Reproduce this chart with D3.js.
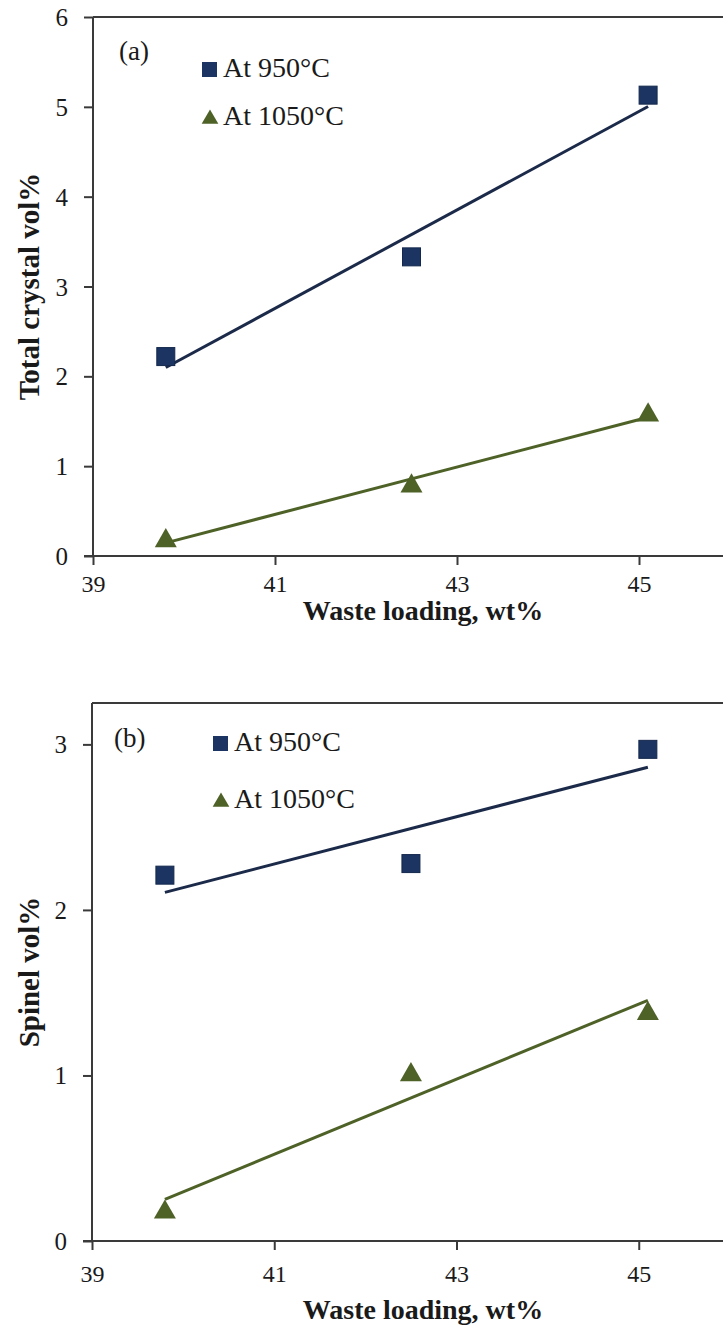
<!DOCTYPE html>
<html>
<head>
<meta charset="utf-8">
<script src="https://cdn.jsdelivr.net/npm/d3@7"></script>
<style>
  html, body { margin: 0; padding: 0; background: #fff; }
  svg { display: block; }
  text { font-family: "Liberation Serif", "Times New Roman", serif; fill: #1a1a1a; }
</style>
</head>
<body>
<svg id="chart" width="723" height="1329"></svg>
<script>
// Waste loading (wt%) of the three glasses
const wasteLoading = [39.8, 42.5, 45.1];

// Panel (a): total crystal content, vol%
const crystalAt950 = [2.22, 3.33, 5.13];
const crystalAt1050 = [0.18, 0.79, 1.58];

// Panel (b): spinel content, vol%
const spinelAt950 = [2.21, 2.28, 2.97];
const spinelAt1050 = [0.18, 1.01, 1.38];

// Axis ticks (the x axis runs on to 47, past the right edge)
const xTicks = [39, 41, 43, 45];
const crystalTicks = [0, 1, 2, 3, 4, 5, 6];
const spinelTicks = [0, 1, 2, 3];

// Series and axis labels
const seriesNames = ["At 950\u00B0C", "At 1050\u00B0C"];
const xTitle = "Waste loading, wt%";
const panelTags = ["(a)", "(b)"];
const yTitles = ["Total crystal vol%", "Spinel vol%"];

const navy = "#1b3461";
const navyLine = "#1c2a4a";
const olive = "#4e6228";
const axisColor = "#3a3a3a";

const svg = d3.select("#chart");

// least-squares straight line through a series
function linearFit(xs, ys) {
  const mx = d3.mean(xs), my = d3.mean(ys);
  const sxy = d3.sum(xs, (x, i) => (x - mx) * (ys[i] - my));
  const sxx = d3.sum(xs, x => (x - mx) * (x - mx));
  const slope = sxy / sxx;
  return x => my + slope * (x - mx);
}

function drawPanel(cfg) {
  const g = svg.append("g");
  const x = d3.scaleLinear().domain([39, 47]).range([cfg.left, cfg.right]);
  const y = d3.scaleLinear().domain([0, cfg.yMax]).range([cfg.bottom, cfg.top]);

  // plot area top border
  g.append("line")
    .attr("x1", cfg.left).attr("x2", cfg.right)
    .attr("y1", cfg.top).attr("y2", cfg.top)
    .attr("stroke", axisColor).attr("stroke-width", 2);

  // y axis
  const yAxis = g.append("g")
    .attr("transform", `translate(${cfg.left},0)`)
    .call(d3.axisLeft(y).tickValues(cfg.yTicks).tickSize(9).tickPadding(16).tickFormat(d3.format("d")));
  yAxis.select(".domain").attr("stroke", axisColor).attr("stroke-width", 2)
    .attr("d", `M0,${cfg.bottom}V${cfg.top}`);
  yAxis.selectAll(".tick line").attr("stroke", axisColor).attr("stroke-width", 2);
  yAxis.selectAll(".tick text")
    .attr("font-size", 25).attr("fill", "#2a2a2a")
    .attr("dy", "0.34em")
    .style("font-family", "'Liberation Serif', serif");

  // x axis
  const xAxis = g.append("g")
    .attr("transform", `translate(0,${cfg.bottom})`)
    .call(d3.axisBottom(x).tickValues(xTicks).tickSize(9).tickPadding(cfg.xPad).tickFormat(d3.format("d")));
  xAxis.select(".domain").attr("stroke", axisColor).attr("stroke-width", 2)
    .attr("d", `M${cfg.left - 9},0H${cfg.right}`);
  xAxis.selectAll(".tick line").attr("stroke", axisColor).attr("stroke-width", 2);
  xAxis.selectAll(".tick text")
    .attr("font-size", 24).attr("fill", "#2a2a2a")
    .style("font-family", "'Liberation Serif', serif");

  // trend lines
  const series = [
    { ys: cfg.s950, color: navyLine },
    { ys: cfg.s1050, color: olive }
  ];
  const x0 = d3.min(wasteLoading), x1 = d3.max(wasteLoading);
  series.forEach(s => {
    const f = linearFit(wasteLoading, s.ys);
    g.append("line")
      .attr("x1", x(x0)).attr("y1", y(f(x0)))
      .attr("x2", x(x1)).attr("y2", y(f(x1)))
      .attr("stroke", s.color).attr("stroke-width", 3);
  });

  // square markers
  g.selectAll(".sq").data(wasteLoading).join("rect")
    .attr("x", d => x(d) - 9).attr("y", (d, i) => y(cfg.s950[i]) - 9)
    .attr("width", 18).attr("height", 18)
    .attr("fill", navy).attr("stroke", "#14284d").attr("stroke-width", 1);

  // triangle markers
  const tri = d3.symbol().type(d3.symbolTriangle).size(210);
  g.selectAll(".tri").data(wasteLoading).join("path")
    .attr("d", tri)
    .attr("transform", (d, i) => `translate(${x(d)},${y(cfg.s1050[i]) + 1})`)
    .attr("fill", olive);

  // panel tag
  g.append("text").attr("x", cfg.tag[0]).attr("y", cfg.tag[1])
    .attr("font-size", 27).text(cfg.tagText);

  // legend
  const lg = g.append("g").attr("transform", `translate(${cfg.legend[0]},${cfg.legend[1]})`);
  lg.append("rect").attr("x", 0).attr("y", -15).attr("width", 15).attr("height", 15).attr("fill", navy);
  lg.append("text").attr("x", 21).attr("y", 0).attr("font-size", 28).text(seriesNames[0]);
  lg.append("path").attr("d", d3.symbol().type(d3.symbolTriangle).size(120))
    .attr("transform", `translate(8,${cfg.legendGap - 6})`).attr("fill", olive);
  lg.append("text").attr("x", 21).attr("y", cfg.legendGap).attr("font-size", 28).text(seriesNames[1]);

  // axis titles
  g.append("text")
    .attr("transform", `translate(${cfg.yTitleX},${(cfg.top + cfg.bottom) / 2}) rotate(-90)`)
    .attr("text-anchor", "middle").attr("font-size", 29).attr("font-weight", "bold")
    .text(cfg.yTitle);
  g.append("text")
    .attr("x", 423).attr("y", cfg.xTitleY)
    .attr("text-anchor", "middle").attr("font-size", 28).attr("font-weight", "bold")
    .text(xTitle);
}

drawPanel({
  left: 93, right: 821, top: 17, bottom: 556, yMax: 6, yTicks: crystalTicks,
  s950: crystalAt950, s1050: crystalAt1050, xPad: 10,
  tag: [119, 60], tagText: panelTags[0],
  legend: [202, 77], legendGap: 48,
  yTitleX: 39, yTitle: yTitles[0], xTitleY: 620
});

drawPanel({
  left: 92, right: 821, top: 703, bottom: 1241, yMax: 3.25, yTicks: spinelTicks,
  s950: spinelAt950, s1050: spinelAt1050, xPad: 15,
  tag: [114, 747], tagText: panelTags[1],
  legend: [213, 751], legendGap: 57,
  yTitleX: 39, yTitle: yTitles[1], xTitleY: 1319
});
</script>
</body>
</html>
